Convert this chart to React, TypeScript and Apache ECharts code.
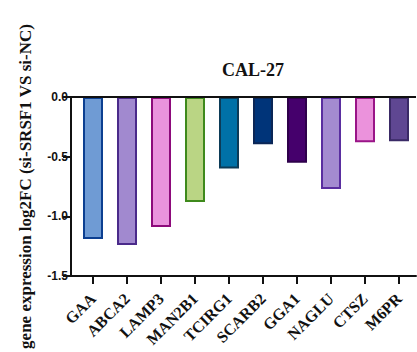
import React, { useEffect, useRef } from "react";
import * as echarts from "echarts";

const categories = ["GAA", "ABCA2", "LAMP3", "MAN2B1", "TCIRG1", "SCARB2", "GGA1", "NAGLU", "CTSZ", "M6PR"];
const values = [-1.19, -1.24, -1.09, -0.88, -0.6, -0.395, -0.55, -0.77, -0.38, -0.37];
const fillColors = ["#6f9bd4", "#a189cf", "#ea93dd", "#bad584", "#0071a7", "#003479", "#45006c", "#a48bd0", "#eb92dc", "#5f4792"];
const borderColors = ["#0c3f91", "#4a2a8a", "#8d0a7b", "#3f8a1c", "#0c3b57", "#0b2656", "#2e004b", "#5a2ea0", "#9a1588", "#3a2a66"];
const yTicks = [-1.5, -1.0, -0.5, 0.0];
const titleText = "CAL-27";
const yName = "gene expression log2FC (si-SRSF1 VS si-NC)";

export default function App() {
  const ref = useRef<HTMLDivElement>(null);
  useEffect(() => {
    document.body.style.margin = "0";
    if (!ref.current) return;
    const chart = echarts.init(ref.current, null, { renderer: "svg" });
    const axisColor = "#111111";
    chart.setOption({
      animation: false,
      backgroundColor: "#ffffff",
      title: {
        text: titleText,
        left: 248,
        top: 56,
        textAlign: "center",
        textStyle: { fontFamily: "Liberation Serif", fontWeight: "bold", fontSize: 18, color: "#111111" },
      },
      grid: { left: 76, top: 97, width: 340, height: 179, containLabel: false, outerBoundsMode: "none" },
      xAxis: {
        type: "category",
        data: categories,
        axisLine: { show: true, onZero: false, lineStyle: { color: axisColor, width: 2 } },
        axisTick: { show: true, length: 8, alignWithLabel: true, lineStyle: { color: axisColor, width: 2 } },
        axisLabel: {
          interval: 0,
          rotate: 45,
          margin: 20,
          fontFamily: "Liberation Serif",
          fontWeight: "bold",
          fontSize: 16,
          color: "#111111",
        },
      },
      yAxis: {
        type: "value",
        min: -1.5,
        max: 0,
        interval: 0.5,
        offset: 5,
        name: yName,
        nameLocation: "middle",
        nameGap: 37,
        nameTextStyle: { fontFamily: "Liberation Serif", fontWeight: "bold", fontSize: 17, color: "#111111" },
        splitLine: { show: false },
        axisLine: { show: true, onZero: false, lineStyle: { color: axisColor, width: 2 } },
        axisTick: { show: true, length: 8, lineStyle: { color: axisColor, width: 2 } },
        axisLabel: {
          margin: 3,
          fontFamily: "Liberation Sans",
          fontWeight: "bold",
          fontSize: 12,
          color: "#111111",
          formatter: (v: number) => (yTicks.includes(v) ? v.toFixed(1) : ""),
        },
      },
      graphic: [
        { type: "rect", shape: { x: 70, y: 96, width: 2, height: 181 }, style: { fill: axisColor }, z: 100 },
        { type: "rect", shape: { x: 70, y: 96, width: 7, height: 2 }, style: { fill: axisColor }, z: 100 },
        { type: "rect", shape: { x: 70, y: 275, width: 7, height: 2 }, style: { fill: axisColor }, z: 100 },
      ],
      series: [
        {
          type: "bar",
          barWidth: 20,
          data: values.map((v, i) => ({
            value: v,
            itemStyle: { color: fillColors[i], borderColor: borderColors[i], borderWidth: 2 },
          })),
          markLine: {
            silent: true,
            symbol: "none",
            label: { show: false },
            lineStyle: { color: axisColor, width: 2, type: "solid" },
            data: [{ yAxis: 0 }, { yAxis: -1.5 }],
          },
        },
      ],
    });
    return () => chart.dispose();
  }, []);
  return <div ref={ref} style={{ width: 417, height: 352 }} />;
}
